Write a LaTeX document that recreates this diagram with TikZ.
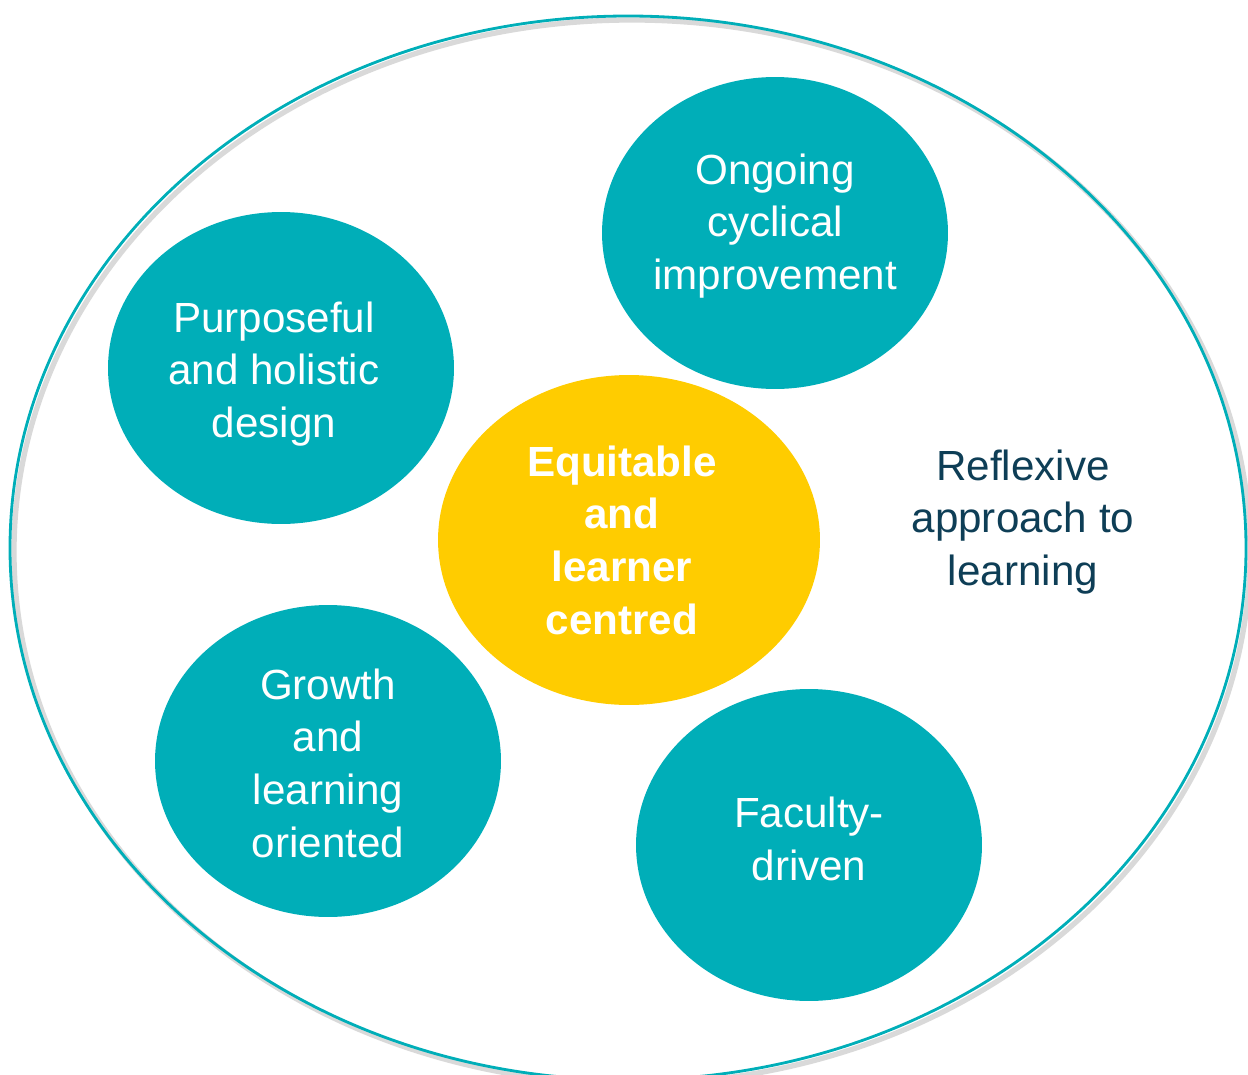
\documentclass[tikz,border=0pt]{standalone}
\usepackage{fontspec}
\setmainfont{Liberation Sans}
\usepackage{xcolor}
\usepackage{tikz}
\usetikzlibrary{shapes.geometric}
\definecolor{ringteal}{RGB}{0,174,184}
\definecolor{coreyellow}{RGB}{255,204,0}
\definecolor{labelnavy}{RGB}{14,62,86}
\tikzset{
  pillar/.style={
    ellipse,
    fill=ringteal,
    inner sep=0pt,
    minimum width=6.92cm,
    minimum height=6.24cm
  },
  corebubble/.style={
    ellipse,
    fill=coreyellow,
    inner sep=0pt,
    minimum width=7.64cm,
    minimum height=6.6cm
  },
  bubbletext/.style={
    align=center,
    text=white,
    inner sep=0pt,
    font=\fontsize{24}{30}\selectfont
  },
  outerlabel/.style={
    align=center,
    text=labelnavy,
    font=\fontsize{24}{30}\selectfont
  }
}

\begin{document}
\begin{tikzpicture}[x=0.02cm, y=-0.02cm]
\useasboundingbox (0,0) rectangle (1248,1075);
% outer ring with soft shadow
\draw[black!15, line width=3pt] (632,552) ellipse [x radius=618, y radius=532];
\draw[ringteal, line width=1.6pt] (628,548) ellipse [x radius=618, y radius=532];

% bubbles
\node[pillar] (ongoing) at (775,233) {};
\node[pillar] (purposeful) at (281,368) {};
\node[corebubble] (equitable) at (629,540) {};
\node[pillar] (growth) at (328,761) {};
\node[pillar] (faculty) at (809,845) {};

% texts
\node[bubbletext] (ongoingtext) at ([shift={(0,-7)}]ongoing.center) {Ongoing\\cyclical\\improvement};
\node[bubbletext] (purposefultext) at ([shift={(-7,6)}]purposeful.center) {Purposeful\\and holistic\\design};
\node[bubbletext, font=\fontsize{24}{30}\selectfont\bfseries] (equitabletext) at ([shift={(-7,0)}]equitable.center) {Equitable\\and\\learner\\centred};
\node[bubbletext] (growthtext) at ([shift={(0,2)}]growth.center) {Growth\\and\\learning\\oriented};
\node[bubbletext] (facultytext) at ([shift={(0,-6)}]faculty.center) {Faculty-\\driven};
\node[outerlabel] (reflexive) at (1023,522) {Reflexive\\approach to\\learning};
\end{tikzpicture}
\end{document}
